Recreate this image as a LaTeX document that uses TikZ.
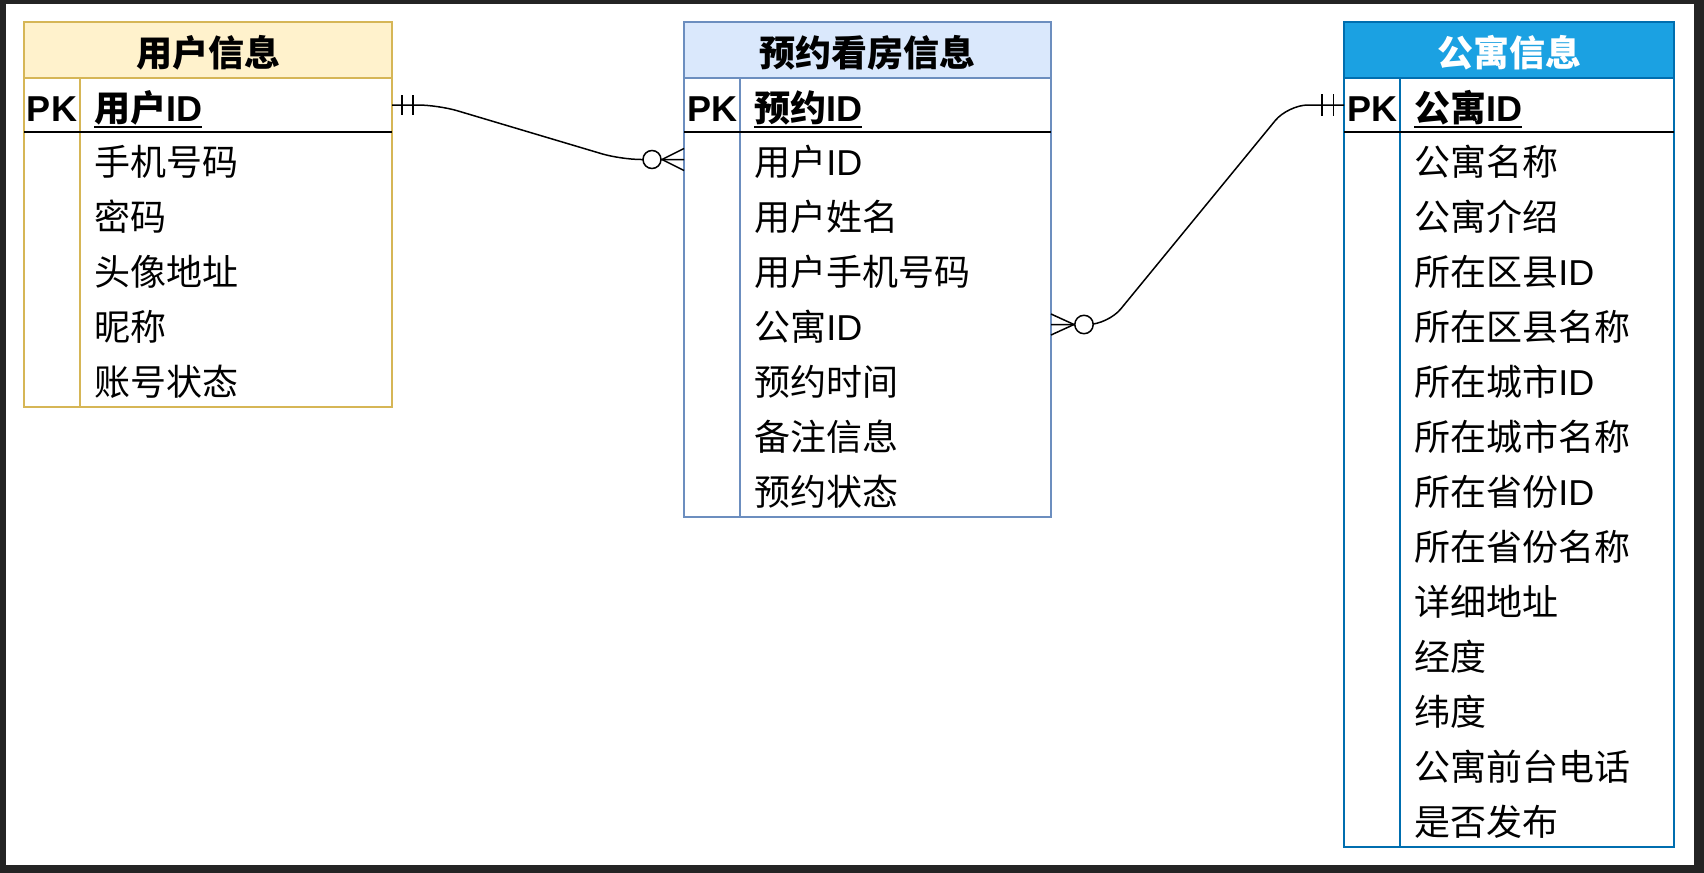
\documentclass[tikz,border=0pt]{standalone}
\usepackage{fontspec}
\setmainfont{Noto Sans CJK SC}
\newfontfamily\enfont{Liberation Sans}
\usetikzlibrary{positioning}

\definecolor{userfill}{HTML}{FFF2CC}
\definecolor{userline}{HTML}{D6B656}
\definecolor{bookfill}{HTML}{DAE8FC}
\definecolor{bookline}{HTML}{6C8EBF}
\definecolor{aptfill}{HTML}{1BA1E2}
\definecolor{aptline}{HTML}{006EAF}
\definecolor{framedark}{HTML}{242424}

% underlined key name
\newcommand{\keyline}[1]{\leavevmode\setbox0=\hbox{#1}\rlap{\vrule height -2.3pt depth 3.3pt width \wd0}\box0}

\begin{document}
\begin{tikzpicture}[
  x=0.5pt, y=-0.5pt,
  every node/.style={font=\fontsize{18}{22}\selectfont, inner sep=0pt, outer sep=0pt, text height=16.4pt, text depth=0pt},
  tabtitle/.style={draw, line width=0.75pt, anchor=north west, minimum height=28pt, font=\fontsize{18}{22}\selectfont\bfseries},
  pkcell/.style={anchor=north west, minimum width=28pt, minimum height=27pt, font=\fontsize{18}{22}\selectfont\enfont\bfseries},
  field/.style={anchor=north west, align=left, inner xsep=7.2pt, text width=141.6pt, minimum height=27.5pt},
  keyfield/.style={field, minimum height=27pt, font=\fontsize{18}{22}\selectfont\bfseries},
  conn/.style={line width=0.75pt, rounded corners=10pt},
  tick/.style={line width=0.75pt},
  node distance=0pt
]
% screenshot frame
\fill[framedark] (0,0) rectangle (1704,873);
\fill[white] (6,4) rectangle (1694,865);

% 用户信息
\node[tabtitle, fill=userfill, draw=userline, minimum width=184pt] (user) at (24,22) {用户信息};
\node[pkcell] (userpk) at (user.south west) {PK};
\node[keyfield] (userid) at (userpk.north east) {\keyline{用户{\enfont ID}}};
\node[field, below=of userid] (u1) {手机号码};
\node[field, below=of u1] (u2) {密码};
\node[field, below=of u2] (u3) {头像地址};
\node[field, below=of u3] (u4) {昵称};
\node[field, below=of u4] (u5) {账号状态};
\draw[userline, line width=0.75pt] (user.north west) rectangle (u5.south east);
\draw[userline, line width=0.75pt] (userpk.north east) -- (u5.south west);
\draw[line width=1pt] (userpk.south west) -- (userid.south east);

% 预约看房信息
\node[tabtitle, fill=bookfill, draw=bookline, minimum width=183.5pt] (book) at (684,22) {预约看房信息};
\node[pkcell] (bookpk) at (book.south west) {PK};
\node[keyfield, text width=141.1pt] (bookid) at (bookpk.north east) {\keyline{预约{\enfont ID}}};
\node[field, text width=141.1pt, below=of bookid] (b1) {用户{\enfont ID}};
\node[field, text width=141.1pt, below=of b1] (b2) {用户姓名};
\node[field, text width=141.1pt, below=of b2] (b3) {用户手机号码};
\node[field, text width=141.1pt, below=of b3] (b4) {公寓{\enfont ID}};
\node[field, text width=141.1pt, below=of b4] (b5) {预约时间};
\node[field, text width=141.1pt, below=of b5] (b6) {备注信息};
\node[field, text width=141.1pt, below=of b6] (b7) {预约状态};
\draw[bookline, line width=0.75pt] (book.north west) rectangle (b7.south east);
\draw[bookline, line width=0.75pt] (bookpk.north east) -- (b7.south west);
\draw[line width=1pt] (bookpk.south west) -- (bookid.south east);

% 公寓信息
\node[tabtitle, fill=aptfill, draw=aptline, text=white, minimum width=165pt] (apt) at (1344,22) {公寓信息};
\node[pkcell] (aptpk) at (apt.south west) {PK};
\node[keyfield, text width=122.6pt] (aptid) at (aptpk.north east) {\keyline{公寓{\enfont ID}}};
\node[field, text width=122.6pt, below=of aptid] (a1) {公寓名称};
\node[field, text width=122.6pt, below=of a1] (a2) {公寓介绍};
\node[field, text width=122.6pt, below=of a2] (a3) {所在区县{\enfont ID}};
\node[field, text width=122.6pt, below=of a3] (a4) {所在区县名称};
\node[field, text width=122.6pt, below=of a4] (a5) {所在城市{\enfont ID}};
\node[field, text width=122.6pt, below=of a5] (a6) {所在城市名称};
\node[field, text width=122.6pt, below=of a6] (a7) {所在省份{\enfont ID}};
\node[field, text width=122.6pt, below=of a7] (a8) {所在省份名称};
\node[field, text width=122.6pt, below=of a8] (a9) {详细地址};
\node[field, text width=122.6pt, below=of a9] (a10) {经度};
\node[field, text width=122.6pt, below=of a10] (a11) {纬度};
\node[field, text width=122.6pt, below=of a11] (a12) {公寓前台电话};
\node[field, text width=122.6pt, below=of a12] (a13) {是否发布};
\draw[aptline, line width=0.75pt] (apt.north west) rectangle (a13.south east);
\draw[aptline, line width=0.75pt] (aptpk.north east) -- (a13.south west);
\draw[line width=1pt] (aptpk.south west) -- (aptid.south east);

% relations
\coordinate (bookuser) at (b1.west -| book.west);
\coordinate (bookapt) at (b4.east);
\draw[conn] (userid.east) -- ++(46,0) -- ([xshift=-31.5pt]bookuser) -- (bookuser);
\draw[conn] (bookapt) -- ++(57,0) -- ([xshift=-28pt]aptpk.west) -- (aptpk.west);

% one side
\draw[tick] ([xshift=5pt]userid.east) ++(0,-10) -- ++(0,20);
\draw[tick] ([xshift=10.5pt]userid.east) ++(0,-10) -- ++(0,20);
\draw[tick] ([xshift=-5.25pt]aptpk.west) ++(0,-11) -- ++(0,22);
\draw[tick] ([xshift=-11pt]aptpk.west) ++(0,-11) -- ++(0,22);
% many side
\draw[tick, fill=white] ([xshift=-16pt]bookuser) circle[radius=4.5pt];
\draw[tick] ([xshift=-11pt]bookuser) -- ++(22,-11) ([xshift=-11pt]bookuser) -- ++(22,11);
\draw[tick, fill=white] ([xshift=16.5pt]bookapt) circle[radius=4.6pt];
\draw[tick] ([xshift=11.5pt]bookapt) -- ++(-23,-10.5) ([xshift=11.5pt]bookapt) -- ++(-23,10.5);
\end{tikzpicture}
\end{document}
